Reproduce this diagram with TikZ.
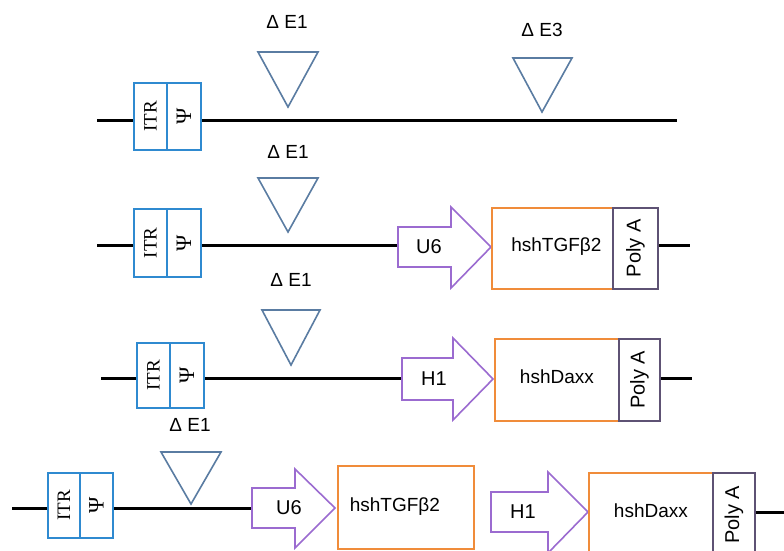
\documentclass[tikz,border=0pt]{standalone}
\usepackage{fontspec}
\usepackage{graphicx}
\setmainfont{Liberation Sans}
\newfontfamily\seriffont{Liberation Serif}
\definecolor{itrblue}{HTML}{2F8AD0}
\definecolor{tricol}{HTML}{5A7CA2}
\definecolor{promcol}{HTML}{9B6BD0}
\definecolor{genecol}{HTML}{F08C3A}
\definecolor{polycol}{HTML}{5E5274}
\tikzset{
  dna/.style={line width=3pt, black},
  itrbox/.style={draw=itrblue, fill=white, line width=1.8pt, inner sep=0pt, anchor=north west, font=\seriffont\fontsize{19}{19}\selectfont},
  psibox/.style={itrbox, font=\seriffont\fontsize{22}{22}\selectfont},
  tri/.style={draw=tricol, line width=1.6pt, line join=miter},
  tlabel/.style={font=\fontsize{19}{19}\selectfont, inner sep=0pt},
  prom/.style={draw=promcol, fill=white, line width=1.6pt, line join=miter},
  plabel/.style={font=\fontsize{20}{20}\selectfont, inner sep=0pt},
  genebox/.style={draw=genecol, fill=white, line width=1.8pt, inner sep=0pt, anchor=north west, font=\fontsize{19}{19}\selectfont},
  polybox/.style={draw=polycol, fill=white, line width=1.8pt, inner sep=0pt, anchor=north west, font=\fontsize{20}{20}\selectfont},
}
\begin{document}
\begin{tikzpicture}[x=1pt,y=-1pt]
\clip (0,0) rectangle (784,550);
\fill[white] (0,0) rectangle (784,550);

% ---------- Row 1 ----------
\coordinate (r1s) at (97,120);
\coordinate (r1e) at (677,120);
\draw[dna] (r1s) -- (r1e);
\node[itrbox, minimum width=33pt, minimum height=67pt] (itr1) at (133,82) {\rotatebox{90}{ITR}};
\node[psibox, minimum width=34pt, minimum height=67pt] (psi1) at (166,82) {\rotatebox{90}{Ψ}};
\draw[tri] (258,52) -- (318,52) -- (288,107) -- cycle;
\node[tlabel] (d1a) at (287,22) {Δ E1};
\draw[tri] (513,58) -- (572,58) -- (542,112) -- cycle;
\node[tlabel] (d1b) at (542,30) {Δ E3};

% ---------- Row 2 ----------
\coordinate (r2s) at (97,245);
\coordinate (r2e) at (690,245);
\draw[dna] (r2s) -- (398,245);
\draw[dna] (657,245) -- (r2e);
\node[itrbox, minimum width=33pt, minimum height=68pt] (itr2) at (133,208) {\rotatebox{90}{ITR}};
\node[psibox, minimum width=34pt, minimum height=68pt] (psi2) at (166,208) {\rotatebox{90}{Ψ}};
\draw[tri] (258,178) -- (318,178) -- (288,232) -- cycle;
\node[tlabel] (d2) at (288,152) {Δ E1};
\draw[prom] (398,227) -- (451,227) -- (451,207) -- (491,247) -- (451,288) -- (451,267) -- (398,267) -- cycle;
\node[plabel] (u6a) at (429,247) {U6};
\node[genebox, minimum width=121pt, minimum height=81pt] (g2) at (491,207) {\raisebox{8pt}{\hspace{8pt}hshTGFβ2}};
\node[polybox, minimum width=45pt, minimum height=81pt] (p2) at (612,207) {\rotatebox{90}{Poly A}};

% ---------- Row 3 ----------
\coordinate (r3s) at (101,378);
\coordinate (r3e) at (692,378);
\draw[dna] (r3s) -- (402,378);
\draw[dna] (659,378) -- (r3e);
\node[itrbox, minimum width=33pt, minimum height=65pt] (itr3) at (136,342) {\rotatebox{90}{ITR}};
\node[psibox, minimum width=34pt, minimum height=65pt] (psi3) at (169,342) {\rotatebox{90}{Ψ}};
\draw[tri] (262,310) -- (320,310) -- (291,365) -- cycle;
\node[tlabel] (d3) at (291,280) {Δ E1};
\draw[prom] (402,358) -- (453,358) -- (453,338) -- (493,379) -- (453,420) -- (453,400) -- (402,400) -- cycle;
\node[plabel] (h1a) at (434,379) {H1};
\node[genebox, minimum width=124pt, minimum height=82pt] (g3) at (494,338) {\raisebox{6pt}{hshDaxx}};
\node[polybox, minimum width=41pt, minimum height=82pt] (p3) at (618,338) {\rotatebox{90}{Poly A}};

% ---------- Row 4 ----------
\coordinate (r4s) at (12,508);
\coordinate (r4e) at (784,512);
\draw[dna] (r4s) -- (252,508);
\draw[dna] (754,512) -- (r4e);
\node[itrbox, minimum width=32pt, minimum height=65pt] (itr4) at (47,472) {\rotatebox{90}{ITR}};
\node[psibox, minimum width=33pt, minimum height=65pt] (psi4) at (79,472) {\rotatebox{90}{Ψ}};
\draw[tri] (161,452) -- (221,452) -- (191,504) -- cycle;
\node[tlabel] (d4) at (190,425) {Δ E1};
\draw[prom] (252,488) -- (295,488) -- (295,469) -- (335,508) -- (295,548) -- (295,528) -- (252,528) -- cycle;
\node[plabel] (u6b) at (289,508) {U6};
\node[genebox, minimum width=136pt, minimum height=83pt] (g4a) at (337,465) {\raisebox{6pt}{hshTGFβ2\hspace{22pt}}};
\draw[prom] (491,492) -- (548,492) -- (548,472) -- (588,512) -- (548,553) -- (548,532) -- (491,532) -- cycle;
\node[plabel] (h1b) at (523,512) {H1};
\node[genebox, minimum width=124pt, minimum height=84pt] (g4b) at (588,472) {\raisebox{8pt}{hshDaxx}};
\node[polybox, minimum width=42pt, minimum height=84pt] (p4) at (712,472) {\rotatebox{90}{Poly A}};
\end{tikzpicture}
\end{document}
